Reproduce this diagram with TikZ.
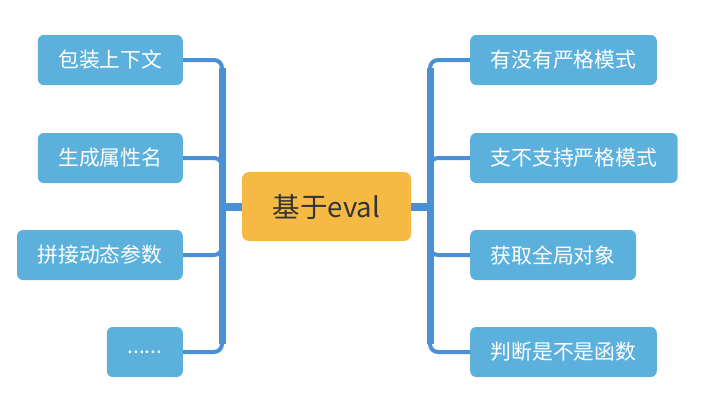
\documentclass[tikz,border=0pt]{standalone}
\usepackage{fontspec}
\setmainfont{Noto Sans CJK SC}
\usepackage{xcolor}
\usepackage{tikz}

\definecolor{boxblue}{HTML}{5CB0DC}
\definecolor{lineblue}{HTML}{4A90D6}
\definecolor{rootorange}{HTML}{F5B944}
\definecolor{roottext}{HTML}{333333}

\tikzset{
  leaf/.style={fill=boxblue, text=white, rounded corners=6pt, minimum height=50pt,
    inner xsep=20.5pt, inner ysep=0pt, font=\fontsize{20.8}{24}\selectfont},
  root/.style={fill=rootorange, text=roottext, rounded corners=7pt, minimum width=169pt,
    minimum height=69pt, font=\fontsize{27.5}{32}\selectfont},
  branch/.style={draw=lineblue, line width=4pt, rounded corners=8pt},
  trunk/.style={draw=lineblue, line width=7pt},
  stem/.style={draw=lineblue, line width=8pt}
}

\begin{document}
\begin{tikzpicture}[x=1pt, y=-1pt]
    \useasboundingbox (0,0) rectangle (723,413);

    % Root
    \node[root] (root) at (326.5,206.5) {基于eval};

    % Left leaves
    \node[leaf, anchor=east] (l1) at (183,60) {包装上下文};
    \node[leaf, anchor=east] (l2) at (183,158) {生成属性名};
    \node[leaf, anchor=east] (l3) at (183,255) {拼接动态参数};
    \node[leaf, anchor=east, minimum width=76pt] (l4) at (183,352) {......};

    % Right leaves
    \node[leaf, anchor=west] (r1) at (470,60) {有没有严格模式};
    \node[leaf, anchor=west] (r2) at (470,158) {支不支持严格模式};
    \node[leaf, anchor=west] (r3) at (470,255) {获取全局对象};
    \node[leaf, anchor=west] (r4) at (470,352) {判断是不是函数};

    % Trunk points
    \coordinate (lt) at (222,206.5);
    \coordinate (rt) at (430,206.5);

    % Left branches
    \foreach \n in {l1,l2,l3,l4}
        \draw[branch] (lt) |- (\n.east);
    \draw[trunk] ([yshift=-8pt]lt |- l1.east) -- ([yshift=8pt]lt |- l4.east);
    \draw[stem] (root.west) -- (lt);

    % Right branches
    \foreach \n in {r1,r2,r3,r4}
        \draw[branch] (rt) |- (\n.west);
    \draw[trunk] ([yshift=-8pt]rt |- r1.west) -- ([yshift=8pt]rt |- r4.west);
    \draw[stem] (root.east) -- (rt);

\end{tikzpicture}
\end{document}
